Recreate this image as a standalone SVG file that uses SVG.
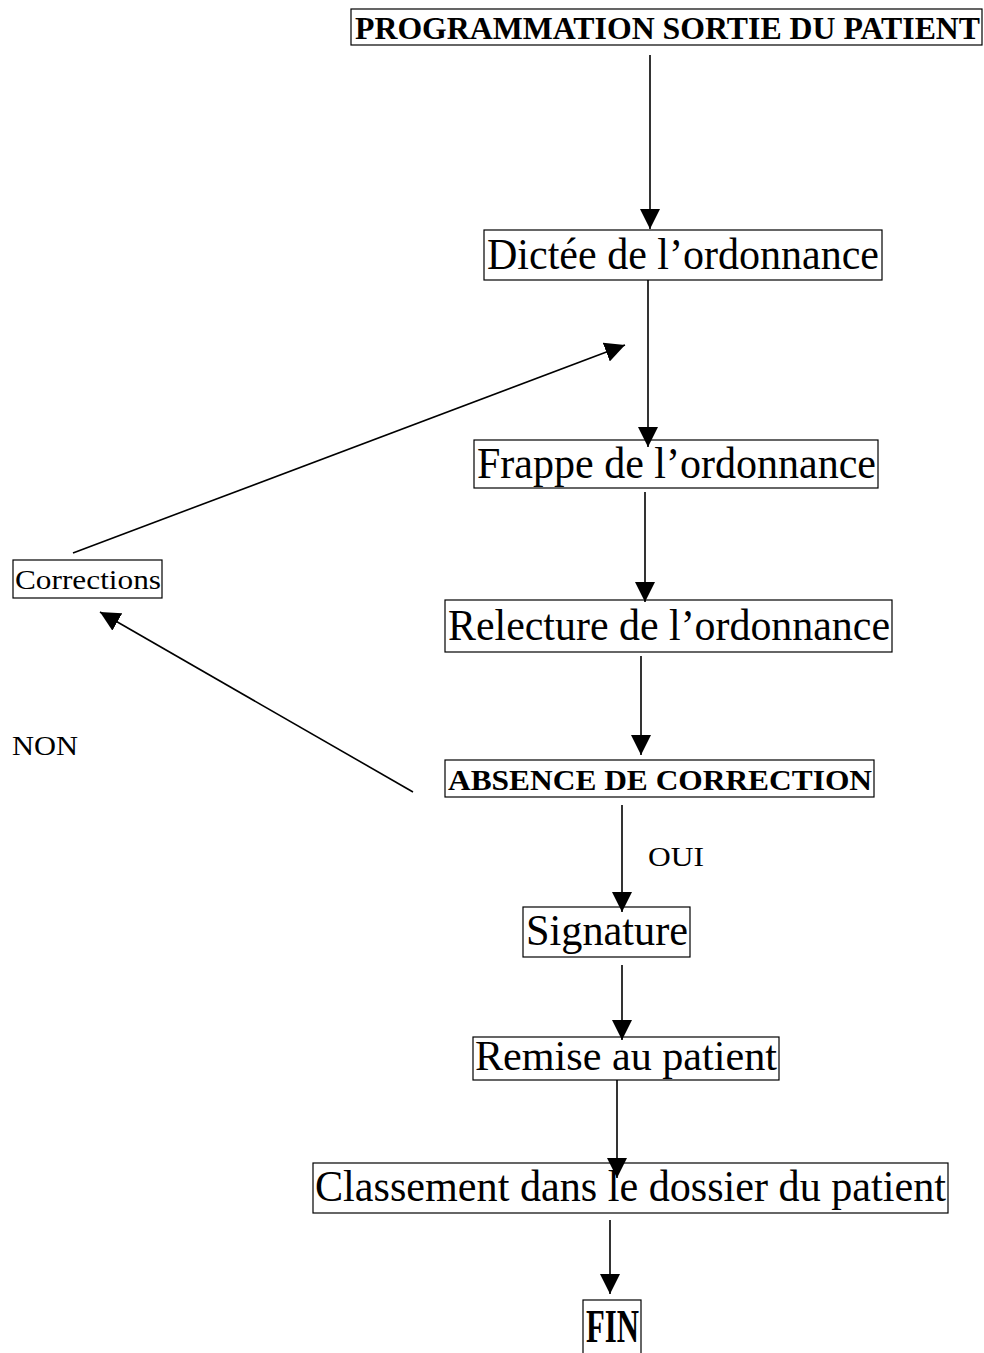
<svg xmlns="http://www.w3.org/2000/svg" width="984" height="1353" viewBox="0 0 984 1353">
<style>
.box{fill:none;stroke:#000;stroke-width:1.2}
.t{font-family:"Liberation Serif","Times New Roman",serif;fill:#000}
.b{font-weight:bold}
.c{stroke:#000;stroke-width:1.6;fill:none}
</style>
<defs>
<marker id="ahL" viewBox="0 0 10 10" refX="10" refY="5" markerWidth="20" markerHeight="20" markerUnits="userSpaceOnUse" orient="auto">
<path d="M0,0 L10,5 L0,10 z" fill="#000"/>
</marker>
</defs>
<rect width="984" height="1353" fill="#fff"/>
<g id="connectors">
<line class="c" x1="650" y1="55" x2="650" y2="229" marker-end="url(#ahL)"/>
<line class="c" x1="648" y1="280" x2="648" y2="447" marker-end="url(#ahL)"/>
<line class="c" x1="73" y1="553" x2="625" y2="345" marker-end="url(#ahL)"/>
<line class="c" x1="645" y1="492" x2="645" y2="602" marker-end="url(#ahL)"/>
<line class="c" x1="641" y1="656" x2="641" y2="755" marker-end="url(#ahL)"/>
<line class="c" x1="413" y1="792" x2="100" y2="612" marker-end="url(#ahL)"/>
<line class="c" x1="622" y1="805" x2="622" y2="912" marker-end="url(#ahL)"/>
<line class="c" x1="622" y1="965" x2="622" y2="1040" marker-end="url(#ahL)"/>
<line class="c" x1="617" y1="1080" x2="617" y2="1178" marker-end="url(#ahL)"/>
<line class="c" x1="610" y1="1220" x2="610" y2="1294" marker-end="url(#ahL)"/>
</g>
<g id="n-start">
<rect class="box" x="351" y="9" width="631" height="36"/>
<text class="t b" x="355" y="39" font-size="31" textLength="625" lengthAdjust="spacingAndGlyphs">PROGRAMMATION SORTIE DU PATIENT</text>
</g>
<g id="n-dictee">
<rect class="box" x="484" y="230" width="398" height="50"/>
<text class="t" x="487" y="269" font-size="44" textLength="392" lengthAdjust="spacingAndGlyphs">Dictée de l’ordonnance</text>
</g>
<g id="n-frappe">
<rect class="box" x="474" y="440" width="404" height="48"/>
<text class="t" x="477" y="478" font-size="44" textLength="399" lengthAdjust="spacingAndGlyphs">Frappe de l’ordonnance</text>
</g>
<g id="n-relecture">
<rect class="box" x="445" y="600" width="447" height="52"/>
<text class="t" x="448" y="640" font-size="44" textLength="442" lengthAdjust="spacingAndGlyphs">Relecture de l’ordonnance</text>
</g>
<g id="n-absence">
<rect class="box" x="445" y="760" width="429" height="37"/>
<text class="t b" x="448" y="790" font-size="30" textLength="424" lengthAdjust="spacingAndGlyphs">ABSENCE DE CORRECTION</text>
</g>
<g id="n-corrections">
<rect class="box" x="13" y="560" width="149" height="38"/>
<text class="t" x="15" y="589" font-size="28" textLength="146" lengthAdjust="spacingAndGlyphs">Corrections</text>
</g>
<text class="t" x="12" y="755" font-size="27" textLength="66" lengthAdjust="spacingAndGlyphs">NON</text>
<text class="t" x="648" y="866" font-size="27" textLength="56" lengthAdjust="spacingAndGlyphs">OUI</text>
<g id="n-signature">
<rect class="box" x="523" y="907" width="167" height="50"/>
<text class="t" x="526" y="945" font-size="44" textLength="162" lengthAdjust="spacingAndGlyphs">Signature</text>
</g>
<g id="n-remise">
<rect class="box" x="473" y="1037" width="306" height="43"/>
<text class="t" x="475" y="1070" font-size="43" textLength="302" lengthAdjust="spacingAndGlyphs">Remise au patient</text>
</g>
<g id="n-classement">
<rect class="box" x="313" y="1163" width="635" height="50"/>
<text class="t" x="315" y="1201" font-size="44" textLength="631" lengthAdjust="spacingAndGlyphs">Classement dans le dossier du patient</text>
</g>
<g id="n-fin">
<rect class="box" x="583" y="1300" width="58" height="60"/>
<text class="t b" x="586" y="1342" font-size="46" textLength="53" lengthAdjust="spacingAndGlyphs">FIN</text>
</g>
</svg>
